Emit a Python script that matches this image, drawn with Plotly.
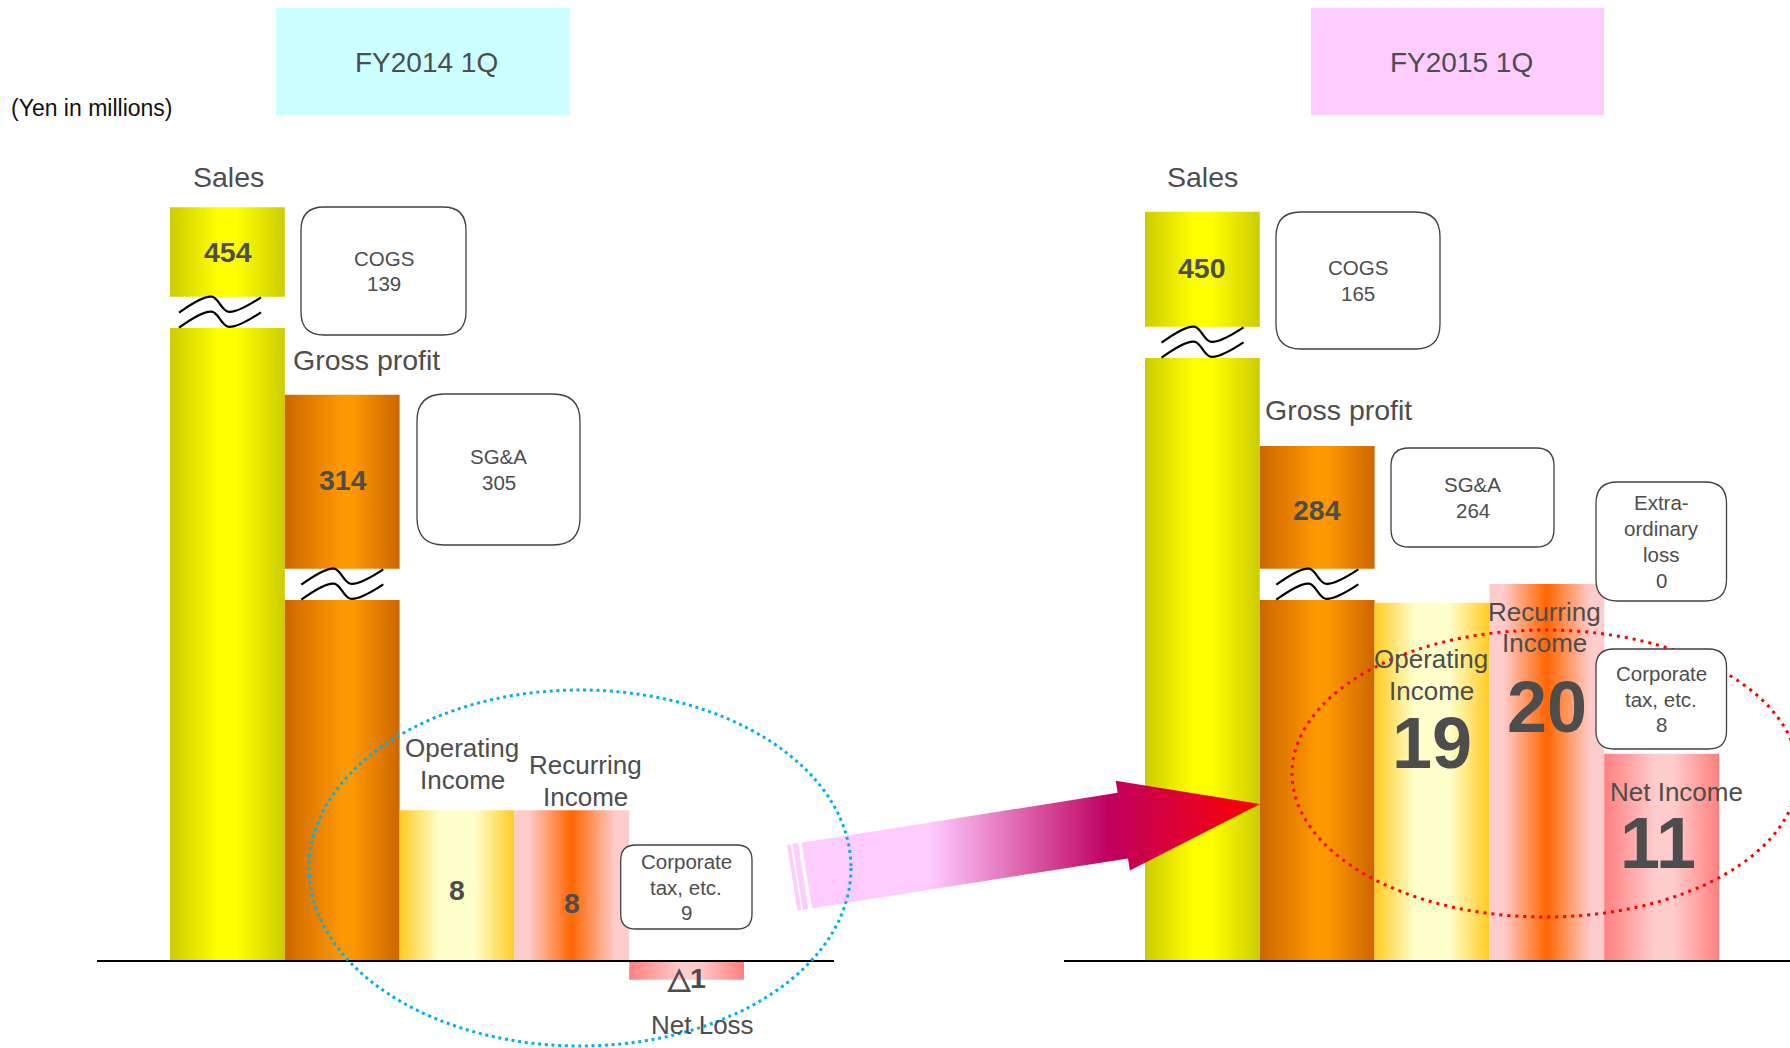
import math
import plotly.graph_objects as go

# ---- quarterly results, yen in millions ----
periods = ["FY2014 1Q", "FY2015 1Q"]
sales = [454, 450]
cogs = [139, 165]
gross_profit = [314, 284]
sga = [305, 264]
operating_income = [8, 19]
recurring_income = [8, 20]
extraordinary_loss = [None, 0]
corporate_tax = [9, 8]
net_income = [-1, 11]

# ---- canvas / scale ----
W, H = 1790, 1048
BASE_PX = 961.0          # pixel row of the zero line
PX_PER_UNIT = 18.85      # vertical scale for the small (unbroken) bars
FONT = "Liberation Sans, Arial, Helvetica, sans-serif"
TEXT = "#4d4d4d"


def to_units(py):
    """pixel row -> value axis units"""
    return (BASE_PX - py) / PX_PER_UNIT


def broken_top(v):
    """compressed display height for bars drawn with a scale break"""
    return 27.0 * math.log(v) - 125.2


BAR_W = 114.8
GROUP_X = [170.0, 1145.0]
SALES_GAP = [(296.7, 328.0), (326.7, 358.0)]
GROSS_GAP = [(568.7, 600.0), (568.7, 600.0)]
SALES_SQ_DX = [9.0, 16.5]
GROSS_SQ_DX = [16.5, 16.5]

SCALES = {
    "sales": [[0, "#CCCC00"], [0.42, "#FFFF00"], [0.58, "#FFFF00"], [1, "#CCCC00"]],
    "gross": [[0, "#CC6600"], [0.5, "#FF9900"], [0.58, "#FF9900"], [1, "#CC6600"]],
    "operating": [[0, "#FFCC22"], [0.35, "#FFFFCC"], [0.65, "#FFFFCC"], [1, "#FFCC22"]],
    "recurring": [[0, "#FFCCCC"], [0.12, "#FFCCCC"], [0.5, "#FF6600"], [0.88, "#FFCCCC"], [1, "#FFCCCC"]],
    "net": [[0, "#FF8080"], [0.45, "#FFCCCC"], [0.6, "#FFCCCC"], [1, "#FF8080"]],
}

fig = go.Figure()


def add_bar(x0, top, scale, gap=None):
    x1 = x0 + BAR_W
    if gap is None:
        xs = [x0, x1, x1, x0, x0]
        ys = [0, 0, top, top, 0]
    else:
        lo = to_units(gap[1])
        hi = to_units(gap[0])
        xs = [x0, x1, x1, x0, x0, None, x0, x1, x1, x0, x0]
        ys = [0, 0, lo, lo, 0, None, hi, hi, top, top, hi]
    fig.add_trace(go.Scatter(
        x=xs, y=ys, mode="lines", line=dict(width=0), fill="toself",
        fillgradient=dict(type="horizontal", colorscale=scale),
        hoverinfo="skip", showlegend=False))


def add_squiggle(x0, gap_top):
    w, amp, sep = 82.0, 16.0, 15.0
    fx = [0.0, 0.40, 0.60, 1.0]
    fy = [1.0, 0.0, 0.94, 0.04]
    for k in range(2):
        fig.add_trace(go.Scatter(
            x=[x0 + f * w for f in fx],
            y=[gap_top + k * sep + f * amp for f in fy],
            yaxis="y2", mode="lines",
            line=dict(color="#000000", width=2.2, shape="spline", smoothing=1.0),
            hoverinfo="skip", showlegend=False))


for g in range(2):
    xs = [GROUP_X[g] + i * BAR_W for i in range(5)]
    add_bar(xs[0], broken_top(sales[g]), SCALES["sales"], SALES_GAP[g])
    add_bar(xs[1], broken_top(gross_profit[g]), SCALES["gross"], GROSS_GAP[g])
    add_bar(xs[2], operating_income[g], SCALES["operating"])
    add_bar(xs[3], recurring_income[g], SCALES["recurring"])
    add_bar(xs[4], net_income[g], SCALES["net"])
    add_squiggle(xs[0] + SALES_SQ_DX[g], SALES_GAP[g][0])
    add_squiggle(xs[1] + GROSS_SQ_DX[g], GROSS_GAP[g][0])

# ---- arrow from the first quarter to the second ----
tail = (806.7, 875.5)
tip = (1260.0, 804.0)
L = math.hypot(tip[0] - tail[0], tip[1] - tail[1])
d = ((tip[0] - tail[0]) / L, (tip[1] - tail[1]) / L)
n = (-d[1], d[0])
BODY_HW, HEAD_HW, HEAD_U = 33.2, 45.4, 320.0


def frame(u, v):
    return (tail[0] + u * d[0] + v * n[0], tail[1] + u * d[1] + v * n[1])


arrow_uv = [(0, -BODY_HW), (HEAD_U, -BODY_HW), (HEAD_U, -HEAD_HW), (L, 0),
            (HEAD_U, HEAD_HW), (HEAD_U, BODY_HW), (0, BODY_HW), (0, -BODY_HW)]
pts = [frame(u, v) for u, v in arrow_uv]
fig.add_trace(go.Scatter(
    x=[p[0] for p in pts], y=[p[1] for p in pts], yaxis="y2",
    mode="lines", line=dict(width=0), fill="toself",
    fillgradient=dict(type="horizontal",
                      colorscale=[[0, "#FFCCFF"], [0.28, "#FFCCFF"],
                                  [0.67, "#BF0060"], [1, "#FF0000"]]),
    hoverinfo="skip", showlegend=False))
for ua, ub in [(-14.6, -10.8), (-9.1, -3.6)]:
    sp = [frame(ua, -BODY_HW), frame(ub, -BODY_HW), frame(ub, BODY_HW),
          frame(ua, BODY_HW), frame(ua, -BODY_HW)]
    fig.add_trace(go.Scatter(
        x=[p[0] for p in sp], y=[p[1] for p in sp], yaxis="y2",
        mode="lines", line=dict(width=0), fill="toself", fillcolor="#FFCCFF",
        hoverinfo="skip", showlegend=False))

# ---- shapes ----
shapes = []
# period headers
shapes.append(dict(type="rect", xref="x", yref="y2", x0=276, x1=570, y0=8, y1=115,
                   fillcolor="#CCFFFF", line=dict(width=0), layer="below"))
shapes.append(dict(type="rect", xref="x", yref="y2", x0=1311, x1=1604, y0=8, y1=115,
                   fillcolor="#FFCCFF", line=dict(width=0), layer="below"))
# zero lines
shapes.append(dict(type="line", xref="x", yref="y", x0=97, x1=834, y0=0, y1=0,
                   line=dict(color="#000000", width=2), layer="above"))
shapes.append(dict(type="line", xref="x", yref="y", x0=1064, x1=1790, y0=0, y1=0,
                   line=dict(color="#000000", width=2), layer="above"))
# highlight ellipses
shapes.append(dict(type="circle", xref="x", yref="y2", x0=309, x1=851, y0=690, y1=1046,
                   line=dict(color="#00B0F0", width=3, dash="3px,3.7px"), layer="above"))
shapes.append(dict(type="circle", xref="x", yref="y2", x0=1292, x1=1798, y0=630, y1=917,
                   line=dict(color="#FF0000", width=3, dash="3px,5px"), layer="above"))


def rounded_box(x0, y0, x1, y1):
    r = 0.18 * min(x1 - x0, y1 - y0)
    return (f"M {x0 + r},{y0} L {x1 - r},{y0} Q {x1},{y0} {x1},{y0 + r} "
            f"L {x1},{y1 - r} Q {x1},{y1} {x1 - r},{y1} L {x0 + r},{y1} "
            f"Q {x0},{y1} {x0},{y1 - r} L {x0},{y0 + r} Q {x0},{y0} {x0 + r},{y0} Z")


boxes = [
    (301, 207, 466, 335, ["COGS", str(cogs[0])]),
    (417, 394, 580, 545, ["SG&amp;A", str(sga[0])]),
    (620.7, 845, 752, 929, ["Corporate", "tax, etc.", str(corporate_tax[0])]),
    (1276, 212, 1440, 349, ["COGS", str(cogs[1])]),
    (1391, 448, 1554, 547, ["SG&amp;A", str(sga[1])]),
    (1596, 482, 1726.5, 601, ["Extra-", "ordinary", "loss", str(extraordinary_loss[1])]),
    (1596, 649, 1726.5, 749, ["Corporate", "tax, etc.", str(corporate_tax[1])]),
]
for x0, y0, x1, y1, _ in boxes:
    shapes.append(dict(type="path", xref="x", yref="y2", path=rounded_box(x0, y0, x1, y1),
                       fillcolor="#FFFFFF", line=dict(color="#404040", width=1.3),
                       layer="above"))

# ---- text ----
annotations = []


def text(x, y, s, size, bold=False, color=TEXT, xanchor="center"):
    annotations.append(dict(
        x=x, y=y, xref="x", yref="y2", text=f"<b>{s}</b>" if bold else s,
        showarrow=False, xanchor=xanchor, yanchor="middle",
        font=dict(family=FONT, size=size, color=color)))


def stacked(x, yc, lines, size, spacing, bold=False):
    k = len(lines)
    for i, s in enumerate(lines):
        text(x, yc + (i - (k - 1) / 2) * spacing, s, size, bold)


text(9, 108, "(Yen in millions)", 23, color="#111111", xanchor="left")
text(426, 62, periods[0], 28)
text(1461, 62, periods[1], 28)

for x0, y0, x1, y1, lines in boxes:
    stacked((x0 + x1) / 2, (y0 + y1) / 2, lines, 20.5, 25.7)

LBL = 26
# first quarter
text(228, 177, "Sales", 28.5)
text(227.5, 252, sales[0], 28.5, bold=True)
text(366.5, 360, "Gross profit", 28.5)
text(342.5, 480, gross_profit[0], 28.5, bold=True)
stacked(462, 764, ["Operating", "Income"], LBL, 32)
text(457, 890, operating_income[0], 28.5, bold=True)
stacked(585, 781, ["Recurring", "Income"], LBL, 32)
text(572, 903, recurring_income[0], 28.5, bold=True)
net0 = net_income[0]
text(686, 978, ("△" + str(abs(net0))) if net0 < 0 else str(net0), 28.5, bold=True)
text(702.7, 1025, "Net Loss" if net0 < 0 else "Net Income", LBL)

# second quarter
text(1202, 177, "Sales", 28.5)
text(1202.4, 268, sales[1], 28.5, bold=True)
text(1338, 410, "Gross profit", 28.5)
text(1316.5, 510, gross_profit[1], 28.5, bold=True)
stacked(1431, 675, ["Operating", "Income"], LBL, 31.4)
text(1432, 743, operating_income[1], 72, bold=True)
stacked(1544.5, 627.5, ["Recurring", "Income"], LBL, 31.6)
text(1547, 707, recurring_income[1], 72, bold=True)
text(1676.5, 791.7, "Net Income" if net_income[1] >= 0 else "Net Loss", LBL)
text(1658.4, 842.7, net_income[1], 72, bold=True)

fig.update_layout(
    width=W, height=H, autosize=False,
    margin=dict(l=0, r=0, t=0, b=0, pad=0),
    paper_bgcolor="#FFFFFF", plot_bgcolor="#FFFFFF",
    showlegend=False,
    xaxis=dict(range=[0, W], visible=False, fixedrange=True),
    yaxis=dict(range=[to_units(H), to_units(0)], visible=False, fixedrange=True),
    yaxis2=dict(range=[H, 0], overlaying="y", visible=False, fixedrange=True),
    shapes=shapes,
    annotations=annotations,
)

fig.write_html("out.html", config={"displayModeBar": False})
